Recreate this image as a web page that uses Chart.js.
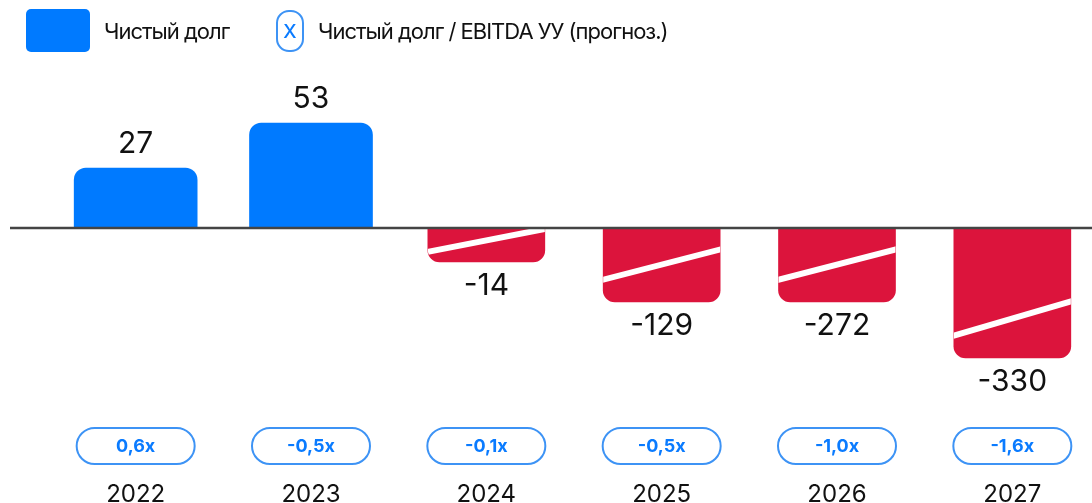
<!DOCTYPE html>
<html>
<head>
<meta charset="utf-8">
<script src="https://cdn.jsdelivr.net/npm/chart.js@4/dist/chart.umd.min.js"></script>
<style>
  body { margin: 0; overflow: hidden; background: #fff; font-family: Inter, "Noto Sans", sans-serif; }
  #wrap { position: relative; width: 1100px; height: 503px; }
  .legend { position: absolute; top: 9px; display: flex; align-items: center; font-size: 22px; color: #111; letter-spacing: -1px; }
  .box { width: 64px; height: 43px; background: #007aff; border-radius: 5px; margin-right: 14px; }
  .xicon { width: 24px; height: 38px; border: 2px solid #3d93f5; border-radius: 13px; color: #0a7bff; letter-spacing: 0;
           display: flex; align-items: center; justify-content: center; font-size: 19px; font-weight: 500; margin-right: 14px; }
</style>
</head>
<body>
<div id="wrap">
  <canvas id="chart" width="1100" height="503"></canvas>
  <div class="legend" style="left:26px"><div class="box"></div>Чистый долг</div>
  <div class="legend" style="left:276px;top:10px"><div class="xicon">X</div>Чистый долг / EBITDA УУ (прогноз.)</div>
</div>
<script>
const years = ["2022", "2023", "2024", "2025", "2026", "2027"];
const netDebt = [27, 53, -14, -129, -272, -330];
// bar length as it is drawn in the picture (bars are not to scale)
const barLevel = [60, 105, -34, -74, -74, -130];
const leverage = ["0,6x", "-0,5x", "-0,1x", "-0,5x", "-1,0x", "-1,6x"];
const actual = barLevel.map((v, i) => (i < 2 ? v : null));
const forecast = barLevel.map((v, i) => (i >= 2 ? v : null));

const blue = "#007aff";
const red = "#dc143c";

const extras = {
  id: "extras",
  afterDatasetsDraw(chart) {
    const ctx = chart.ctx;
    const x = chart.scales.x;
    const y = chart.scales.y;
    const base = y.getPixelForValue(0);

    // white stripes on forecast bars
    chart.getDatasetMeta(1).data.forEach((bar, i) => {
      if (forecast[i] === null) return;
      const left = bar.x - bar.width / 2;
      const right = bar.x + bar.width / 2;
      const bottom = bar.y;
      const h = bottom - base;
      const ly = bottom - Math.min(22, 0.3 * h);
      const ry = ly - Math.min(16 + 0.2 * h, 35);
      ctx.save();
      ctx.beginPath();
      ctx.roundRect(left, base, bar.width, h, [0, 0, 12, 12]);
      ctx.clip();
      ctx.strokeStyle = "#fff";
      ctx.lineWidth = 6;
      ctx.beginPath();
      ctx.moveTo(left - 5, ly + 1);
      ctx.lineTo(right + 5, ry - 1);
      ctx.stroke();
      ctx.restore();
    });

    // zero line
    ctx.save();
    ctx.strokeStyle = "#444";
    ctx.lineWidth = 2.5;
    ctx.beginPath();
    ctx.moveTo(10, base);
    ctx.lineTo(1092, base);
    ctx.stroke();

    // value labels
    ctx.textAlign = "center";
    ctx.textBaseline = "middle";
    ctx.fillStyle = "#111";
    ctx.font = "30px Inter, 'Noto Sans', sans-serif";
    years.forEach((yr, i) => {
      const cx = x.getPixelForValue(i);
      const py = y.getPixelForValue(barLevel[i]);
      const ty = barLevel[i] >= 0 ? py - 24 : py + 24;
      ctx.fillText(String(netDebt[i]), cx, ty);
    });

    // leverage pills and years
    years.forEach((yr, i) => {
      const cx = x.getPixelForValue(i);
      ctx.strokeStyle = "#3d93f5";
      ctx.lineWidth = 2;
      ctx.beginPath();
      ctx.roundRect(cx - 59, 428, 118, 36, 18);
      ctx.stroke();
      ctx.fillStyle = "#0a7bff";
      ctx.font = "bold 18px Inter, 'Noto Sans', sans-serif";
      ctx.fillText(leverage[i], cx, 447);
      ctx.fillStyle = "#111";
      ctx.font = "24px Inter, 'Noto Sans', sans-serif";
      ctx.fillText(yr, cx, 495);
    });
    ctx.restore();
  }
};

new Chart(document.getElementById("chart"), {
  type: "bar",
  data: {
    labels: years,
    datasets: [
      { label: "Чистый долг", data: actual, backgroundColor: blue, barThickness: 123, borderRadius: 12, borderSkipped: "start", grouped: false },
      { label: "Чистый долг (прогноз)", data: forecast, backgroundColor: red, barThickness: 117, borderRadius: 12, borderSkipped: "start", grouped: false }
    ]
  },
  options: {
    responsive: false,
    animation: false,
    layout: { padding: { left: 48, right: 0, top: 0, bottom: 0 } },
    plugins: { legend: { display: false }, tooltip: { enabled: false } },
    scales: {
      x: { display: false },
      y: { display: false, min: -275, max: 228 }
    }
  },
  plugins: [extras]
});
</script>
</body>
</html>
